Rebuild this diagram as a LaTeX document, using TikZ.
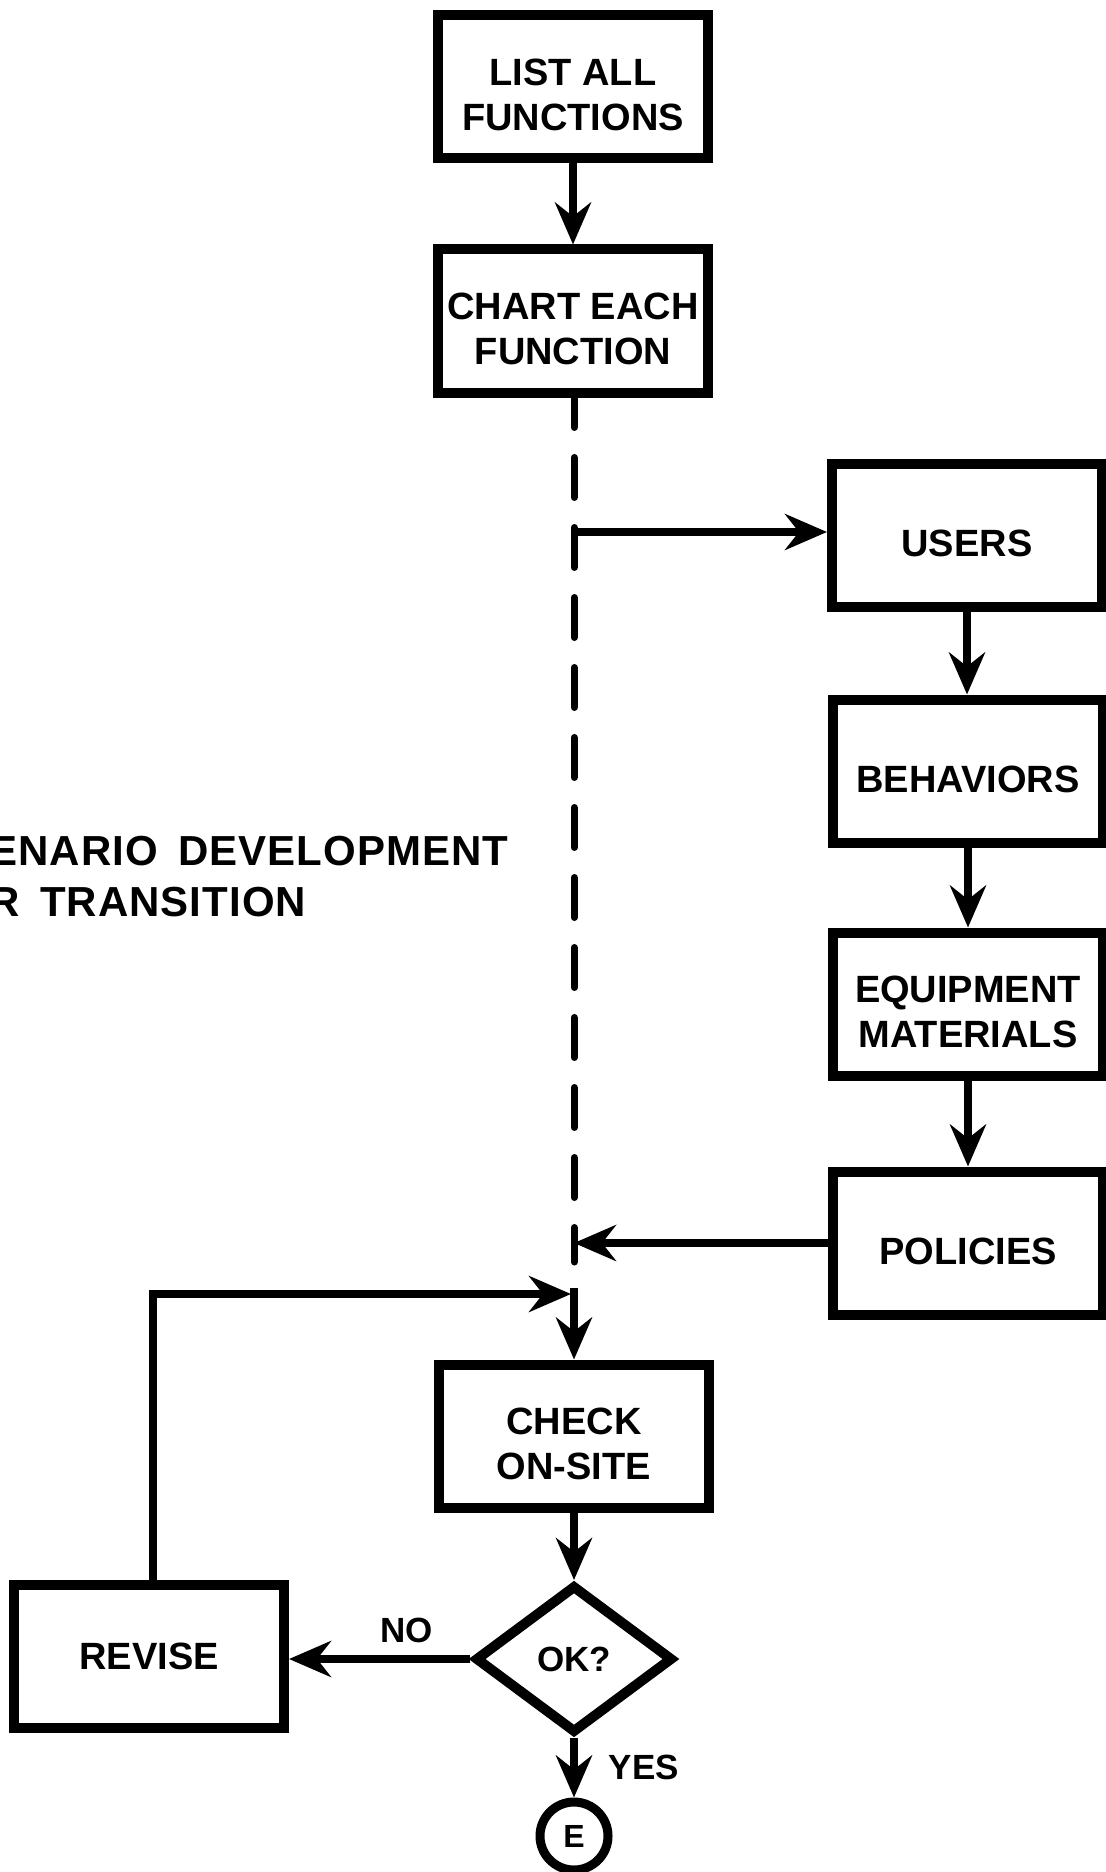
\documentclass[tikz,border=0pt]{standalone}
\usepackage{fontspec}
\setmainfont{Liberation Sans}
\newfontfamily\headfont[WordSpace=1.6,LetterSpace=2.5]{Liberation Sans}
\usepackage{tikz}
\usetikzlibrary{shapes.geometric, arrows}
\usetikzlibrary{arrows.meta,bending}
\newcommand{\capstrut}{\rule{0pt}{21.5pt}}
\tikzset{box/.style={draw, line width=5pt, minimum width=135pt, minimum height=71.5pt,
    align=center, font=\bfseries\fontsize{19}{22.5}\selectfont}}
\tikzset{decision/.style={diamond, draw, line width=5pt, minimum width=99pt, minimum height=74pt,
    inner sep=0pt, font=\bfseries\fontsize{17.5}{20}\selectfont}}
\tikzset{terminal/.style={circle, draw, line width=4.5pt, minimum size=34pt, inner sep=0pt,
    font=\bfseries\fontsize{16}{18}\selectfont}}
\tikzset{answer/.style={font=\bfseries\fontsize{17.5}{20}\selectfont}}
\tikzset{headtext/.style={anchor=base west, inner sep=0pt, font=\headfont\bfseries\fontsize{21}{24}\selectfont}}
\tikzstyle{arrow} = [line width=4pt,-{Stealth[length=21pt,width=18pt,inset=7pt]}]
\tikzstyle{dashline} = [line width=3.5pt, dash pattern=on 20pt off 15pt, dash phase=5pt, line cap=round]

\begin{document}
\begin{tikzpicture}[x=0.5pt,y=-0.5pt]
\useasboundingbox (0,0) rectangle (1105,1872);

\node[headtext] (title) at (-11,865) {ENARIO DEVELOPMENT};
\node[headtext] (title2) at (-11,916) {R TRANSITION};

% main column
\node[box] (list) at (573,87) {\capstrut LIST ALL\\FUNCTIONS};
\node[box] (chart) at (573,321) {\capstrut CHART EACH\\FUNCTION};
\node[box] (check) at (574,1436) {\capstrut CHECK\\ON-SITE};
\node[decision] (ok) at (574,1659) {OK?};
\node[terminal] (endc) at (574,1836) {E};
\node[box] (revise) at (149,1656) {REVISE};

% right column
\node[box] (users) at (967,535) {\capstrut USERS};
\node[box] (behav) at (968,771) {\capstrut BEHAVIORS};
\node[box] (equip) at (968,1004) {\capstrut EQUIPMENT\\MATERIALS};
\node[box] (policies) at (968,1243) {\capstrut POLICIES};

\coordinate (dashend) at (574,1262);
\coordinate (tousers) at (574,532);
\coordinate (frompol) at (574,1243);
\coordinate (looptip) at (571,1294);
\coordinate (loopjoin) at (574,1288);

\draw[arrow] (list) -- (chart);
\draw[dashline] (chart.south -| dashend) -- (dashend);
\draw[arrow] (tousers) -- (tousers -| users.west);
\draw[arrow] (users) -- (users |- behav.north);
\draw[arrow] (behav) -- (equip);
\draw[arrow] (equip) -- (policies);
\draw[arrow] (policies.west) -- (frompol);

\draw[arrow] ([xshift=2pt]revise.north) |- (looptip);
\draw[arrow] (loopjoin) -- (check.north);
\draw[arrow] (check) -- (ok);
\draw[arrow] (ok.west) -- (ok.west -| revise.east) node[answer, pos=0.35, above=3pt] {NO};
\draw[arrow] (ok.south) -- (endc.north) node[answer, midway, right=12pt] {YES};
\end{tikzpicture}
\end{document}
